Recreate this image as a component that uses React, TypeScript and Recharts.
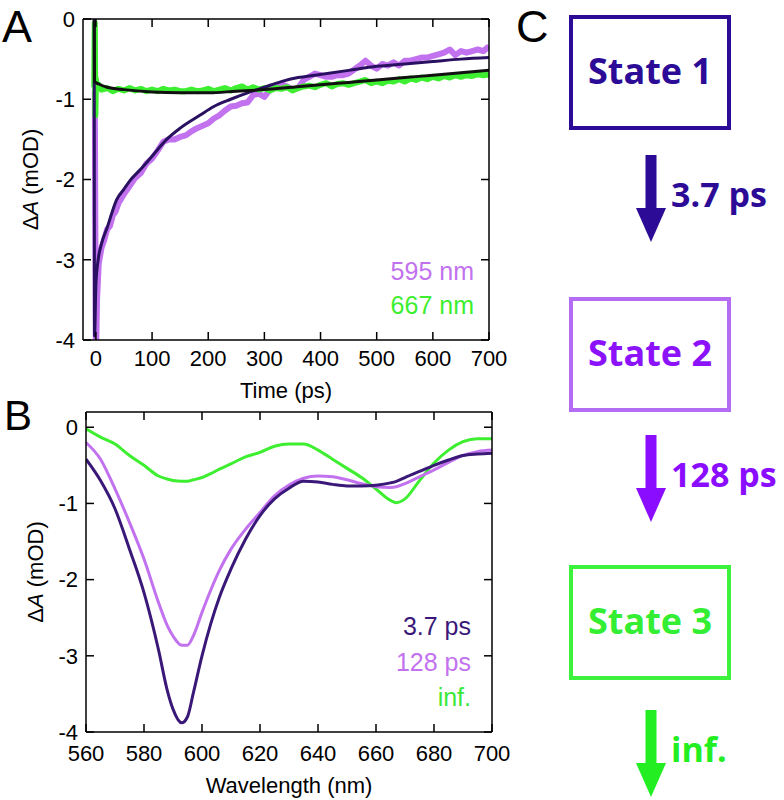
import React from 'react';
import { LineChart, Line, XAxis, YAxis, Label } from 'recharts';

// ---- panel A: kinetic traces ----
const timeTicks = [0, 100, 200, 300, 400, 500, 600, 700];
const odTicksA = [-4, -3, -2, -1, 0];

const t595 = [-2, 0, 2, 5, 10, 15, 20, 25, 30, 35, 40,
  50, 60, 70, 80, 90, 100, 110, 120, 130, 140, 150, 160, 170, 180, 190,
  200, 210, 220, 230, 240, 250, 260, 270, 280, 290, 300, 310, 320, 330, 340, 350, 360, 370, 380, 390,
  400, 410, 420, 430, 440, 450, 460, 470, 480, 490, 500, 510, 520, 530, 540, 550, 560, 570, 580, 590,
  600, 610, 620, 630, 640, 650, 660, 670, 680, 690, 700];
const v595 = [-0.9, -4.3, -3.5, -3.05, -2.85, -2.75, -2.62, -2.58, -2.45, -2.4, -2.3,
  -2.18, -2.08, -1.98, -1.92, -1.8, -1.74, -1.64, -1.53, -1.5, -1.5, -1.47, -1.45, -1.4, -1.36, -1.33,
  -1.3, -1.24, -1.2, -1.14, -1.09, -1.08, -1.05, -1.04, -0.95, -0.93, -0.97, -0.88, -0.83, -0.81, -0.84, -0.88, -0.86, -0.76, -0.72, -0.68,
  -0.7, -0.72, -0.72, -0.7, -0.7, -0.68, -0.63, -0.58, -0.52, -0.58, -0.62, -0.56, -0.58, -0.54, -0.58, -0.52, -0.52, -0.5, -0.48, -0.48,
  -0.46, -0.44, -0.42, -0.38, -0.45, -0.4, -0.42, -0.4, -0.38, -0.4, -0.34];

const t667 = [-3, -2, -1, 0, 1, 5,
  10, 20, 30, 40, 50, 60, 70, 80, 90, 100, 110, 120, 130, 140, 150, 160, 170, 180, 190,
  200, 210, 220, 230, 240, 250, 260, 270, 280, 290, 300, 310, 320, 330, 340, 350, 360, 370, 380, 390,
  400, 410, 420, 430, 440, 450, 460, 470, 480, 490, 500, 510, 520, 530, 540, 550, 560, 570, 580, 590,
  600, 610, 620, 630, 640, 650, 660, 670, 680, 690, 700];
const v667 = [-0.85, -0.05, -1.2, -0.75, -0.85, -0.82,
  -0.88, -0.86, -0.9, -0.87, -0.89, -0.86, -0.89, -0.87, -0.9, -0.88, -0.9, -0.87, -0.89, -0.88, -0.9, -0.9, -0.88, -0.9, -0.89,
  -0.87, -0.9, -0.88, -0.86, -0.89, -0.86, -0.84, -0.88, -0.85, -0.88, -0.86, -0.89, -0.86, -0.87, -0.85, -0.89, -0.86, -0.84, -0.83, -0.85,
  -0.82, -0.8, -0.84, -0.81, -0.8, -0.82, -0.8, -0.78, -0.76, -0.8, -0.78, -0.8, -0.77, -0.78, -0.75, -0.78, -0.74, -0.76, -0.73, -0.75,
  -0.72, -0.74, -0.71, -0.73, -0.7, -0.72, -0.7, -0.71, -0.69, -0.7, -0.69];

const tFit595 = [-3, -2.5, 0, 4, 10, 20, 37, 50, 60, 80, 100, 126, 150, 185, 210, 240, 270, 300, 330, 360,
  390, 450, 500, 550, 600, 650, 700];
const vFit595 = [0, -3.95, -3.3, -3.0, -2.8, -2.6, -2.25, -2.12, -2.02, -1.87, -1.71, -1.5, -1.36, -1.2, -1.09, -1.0, -0.92, -0.85, -0.78, -0.73,
  -0.7, -0.64, -0.59, -0.56, -0.53, -0.5, -0.48];

const tFit667 = [-3, -2.5, 5, 20, 50, 100, 150, 200, 250, 300, 350, 400, 450, 500, 550, 600, 650, 700];
const vFit667 = [-0.02, -0.78, -0.81, -0.85, -0.88, -0.91, -0.92, -0.92, -0.9, -0.88, -0.85, -0.82, -0.79, -0.76, -0.73, -0.7, -0.67, -0.64];

// ---- panel B: decay-associated spectra ----
const wlTicks = [560, 580, 600, 620, 640, 660, 680, 700];
const odTicksB = [-4, -3, -2, -1, 0];
const wavelengths = [560, 565, 570, 575, 580, 585, 588, 590, 593, 595, 597, 600, 603, 606, 610, 615, 620, 625, 630,
  635, 640, 645, 650, 655, 660, 665, 667, 670, 675, 680, 685, 690, 695, 700];
const spec37 = [-0.42, -0.7, -1.07, -1.6, -2.17, -2.92, -3.45, -3.7, -3.88, -3.8, -3.49, -3.0, -2.58, -2.23, -1.86, -1.47, -1.16, -0.94, -0.8,
  -0.71, -0.72, -0.75, -0.77, -0.77, -0.76, -0.73, -0.71, -0.66, -0.58, -0.5, -0.43, -0.37, -0.35, -0.34];
const spec128 = [-0.2, -0.42, -0.81, -1.25, -1.73, -2.3, -2.6, -2.74, -2.86, -2.86, -2.74, -2.43, -2.14, -1.88, -1.6, -1.34, -1.12, -0.9, -0.76,
  -0.67, -0.64, -0.65, -0.69, -0.74, -0.78, -0.79, -0.78, -0.74, -0.65, -0.56, -0.46, -0.37, -0.32, -0.3];
const specInf = [-0.02, -0.13, -0.22, -0.37, -0.5, -0.64, -0.68, -0.7, -0.71, -0.71, -0.69, -0.66, -0.61, -0.55, -0.48, -0.39, -0.33, -0.25, -0.22,
  -0.22, -0.3, -0.42, -0.54, -0.66, -0.81, -0.96, -0.99, -0.94, -0.7, -0.47, -0.3, -0.19, -0.15, -0.15];

// ---- panel C: kinetic scheme ----
const stateNames = ['State 1', 'State 2', 'State 3'];
const lifetimes = ['3.7 ps', '128 ps', 'inf.'];

const DARK = '#3a1878';
const LIGHT = '#c272ee';
const GREEN = '#3eee30';
const stateText = ['#2c0b96', '#8c12fa', '#33ee33'];
const stateBorder = ['#2c0b96', '#b46cf5', '#3cf23c'];
const arrowColor = ['#2c0b96', '#8a0dff', '#22ee22'];

const pts = (xs: number[], ys: number[]) => xs.map((x, i) => ({ x, v: ys[i] }));

const FONT = '"Liberation Sans", Arial, Helvetica, sans-serif';
const frame = { stroke: '#000', strokeWidth: 1.5 };
const tickStyle = { fill: '#000', fontSize: 22 };
const noLabel = () => <g />;

const YTitle = (props: any) => {
  const vb = props.viewBox || { x: 0, y: 0, width: 0, height: 0 };
  const cx = vb.x + props.dx;
  const cy = vb.y + vb.height / 2;
  return (
    <text x={cx} y={cy} transform={`rotate(-90, ${cx}, ${cy})`} textAnchor="middle" fontSize={22} fill="#000">
      Δ<tspan fontStyle="italic">A</tspan> (mOD)
    </text>
  );
};

export default function App() {
  return (
    <div style={{ position: 'absolute', left: 0, top: 0, width: 784, height: 800, fontFamily: FONT, background: '#fff' }}>
      <div style={{ position: 'absolute', left: 0, top: 0 }}>
        <LineChart width={520} height={410} margin={{ top: 18, right: 30, bottom: 10, left: 0 }}>
          <XAxis xAxisId="b" type="number" dataKey="x" domain={[-23, 700]} ticks={timeTicks} allowDataOverflow interval={0}
            tickSize={-8} tickMargin={18} height={60} axisLine={frame} tickLine={frame} tick={tickStyle}>
            <Label value="Time (ps)" position="insideBottom" offset={2} fill="#000" fontSize={22} />
          </XAxis>
          <XAxis xAxisId="t" orientation="top" type="number" dataKey="x" domain={[-23, 700]} ticks={timeTicks} allowDataOverflow
            interval={0} tickSize={-8} height={1} axisLine={frame} tickLine={frame} tick={noLabel} />
          <YAxis yAxisId="l" type="number" domain={[-4, 0]} ticks={odTicksA} allowDataOverflow interval={0}
            tickSize={-8} tickMargin={16} width={83} axisLine={frame} tickLine={frame} tick={tickStyle}>
            <Label content={(p: any) => <YTitle {...p} dx={38} />} />
          </YAxis>
          <YAxis yAxisId="r" orientation="right" type="number" domain={[-4, 0]} ticks={odTicksA} allowDataOverflow interval={0}
            tickSize={-8} width={1} axisLine={frame} tickLine={frame} tick={noLabel} />
          <Line xAxisId="b" yAxisId="l" data={pts(t595, v595)} dataKey="v" type="linear" stroke={LIGHT} strokeWidth={6}
            strokeLinejoin="round" dot={false} isAnimationActive={false} />
          <Line xAxisId="b" yAxisId="l" data={pts(t667, v667)} dataKey="v" type="linear" stroke={GREEN} strokeWidth={6}
            strokeLinejoin="round" dot={false} isAnimationActive={false} />
          <Line xAxisId="b" yAxisId="l" data={pts(tFit595, vFit595)} dataKey="v" type="monotone" stroke="#2a1060" strokeWidth={3}
            dot={false} isAnimationActive={false} />
          <Line xAxisId="b" yAxisId="l" data={pts(tFit667, vFit667)} dataKey="v" type="monotone" stroke="#111" strokeWidth={3}
            dot={false} isAnimationActive={false} />
        </LineChart>
      </div>

      <div style={{ position: 'absolute', left: 0, top: 380 }}>
        <LineChart width={520} height={420} margin={{ top: 31, right: 27, bottom: 8, left: 0 }}>
          <XAxis xAxisId="b" type="number" dataKey="x" domain={[560, 700]} ticks={wlTicks} allowDataOverflow interval={0}
            tickSize={-8} tickMargin={21} height={60} axisLine={frame} tickLine={frame} tick={tickStyle}>
            <Label value="Wavelength (nm)" position="insideBottom" offset={-1} fill="#000" fontSize={22} />
          </XAxis>
          <XAxis xAxisId="t" orientation="top" type="number" dataKey="x" domain={[560, 700]} ticks={wlTicks} allowDataOverflow
            interval={0} tickSize={-8} height={1} axisLine={frame} tickLine={frame} tick={noLabel} />
          <YAxis yAxisId="l" type="number" domain={[-4, 0.2]} ticks={odTicksB} allowDataOverflow interval={0}
            tickSize={-8} tickMargin={16} width={86} axisLine={frame} tickLine={frame} tick={tickStyle}>
            <Label content={(p: any) => <YTitle {...p} dx={43} />} />
          </YAxis>
          <YAxis yAxisId="r" orientation="right" type="number" domain={[-4, 0.2]} ticks={odTicksB} allowDataOverflow interval={0}
            tickSize={-8} width={1} axisLine={frame} tickLine={frame} tick={noLabel} />
          <Line xAxisId="b" yAxisId="l" data={pts(wavelengths, specInf)} dataKey="v" type="monotone" stroke={GREEN} strokeWidth={3}
            dot={false} isAnimationActive={false} />
          <Line xAxisId="b" yAxisId="l" data={pts(wavelengths, spec128)} dataKey="v" type="monotone" stroke={LIGHT} strokeWidth={3}
            dot={false} isAnimationActive={false} />
          <Line xAxisId="b" yAxisId="l" data={pts(wavelengths, spec37)} dataKey="v" type="monotone" stroke={DARK} strokeWidth={3}
            dot={false} isAnimationActive={false} />
        </LineChart>
      </div>

      {/* legends */}
      <div style={{ position: 'absolute', left: 300, width: 174, top: 254, textAlign: 'right', fontSize: 25, lineHeight: '34px' }}>
        <div style={{ color: LIGHT }}>595 nm</div>
        <div style={{ color: GREEN }}>667 nm</div>
      </div>
      <div style={{ position: 'absolute', left: 300, width: 171, top: 609, textAlign: 'right', fontSize: 25, lineHeight: '35.5px' }}>
        <div style={{ color: DARK }}>3.7 ps</div>
        <div style={{ color: LIGHT }}>128 ps</div>
        <div style={{ color: '#3ae83a' }}>inf.</div>
      </div>

      {/* panel letters and kinetic scheme */}
      <svg width={784} height={800} style={{ position: 'absolute', left: 0, top: 0, pointerEvents: 'none' }}>
        <text x={2} y={42} fontSize={45} fill="#000">A</text>
        <text x={4} y={430} fontSize={42} fill="#000">B</text>
        <text x={516} y={42} fontSize={45} fill="#000">C</text>
        {stateNames.map((name, i) => {
          const top = [15, 297, 565][i];
          return (
            <g key={name}>
              <rect x={571} y={top + 2} width={158} height={111} fill="none" stroke={stateBorder[i]} strokeWidth={4} />
              <text x={650} y={top + 69} textAnchor="middle" fontSize={36} fontWeight={700}
                fontFamily='"Open Sans", "DejaVu Sans", sans-serif' fill={stateText[i]}>{name}</text>
            </g>
          );
        })}
        {lifetimes.map((lt, i) => {
          const top = [155, 435, 710][i];
          const c = arrowColor[i];
          return (
            <g key={lt}>
              <rect x={645.5} y={top} width={11} height={55} fill={c} />
              <polygon points={`${636},${top + 53} ${666},${top + 53} ${651},${top + 87}`} fill={c} />
              <text x={671} y={top + 52} fontSize={34} fontWeight={700}
                fontFamily='"Open Sans", "DejaVu Sans", sans-serif' fill={c}>{lt}</text>
            </g>
          );
        })}
      </svg>
    </div>
  );
}
